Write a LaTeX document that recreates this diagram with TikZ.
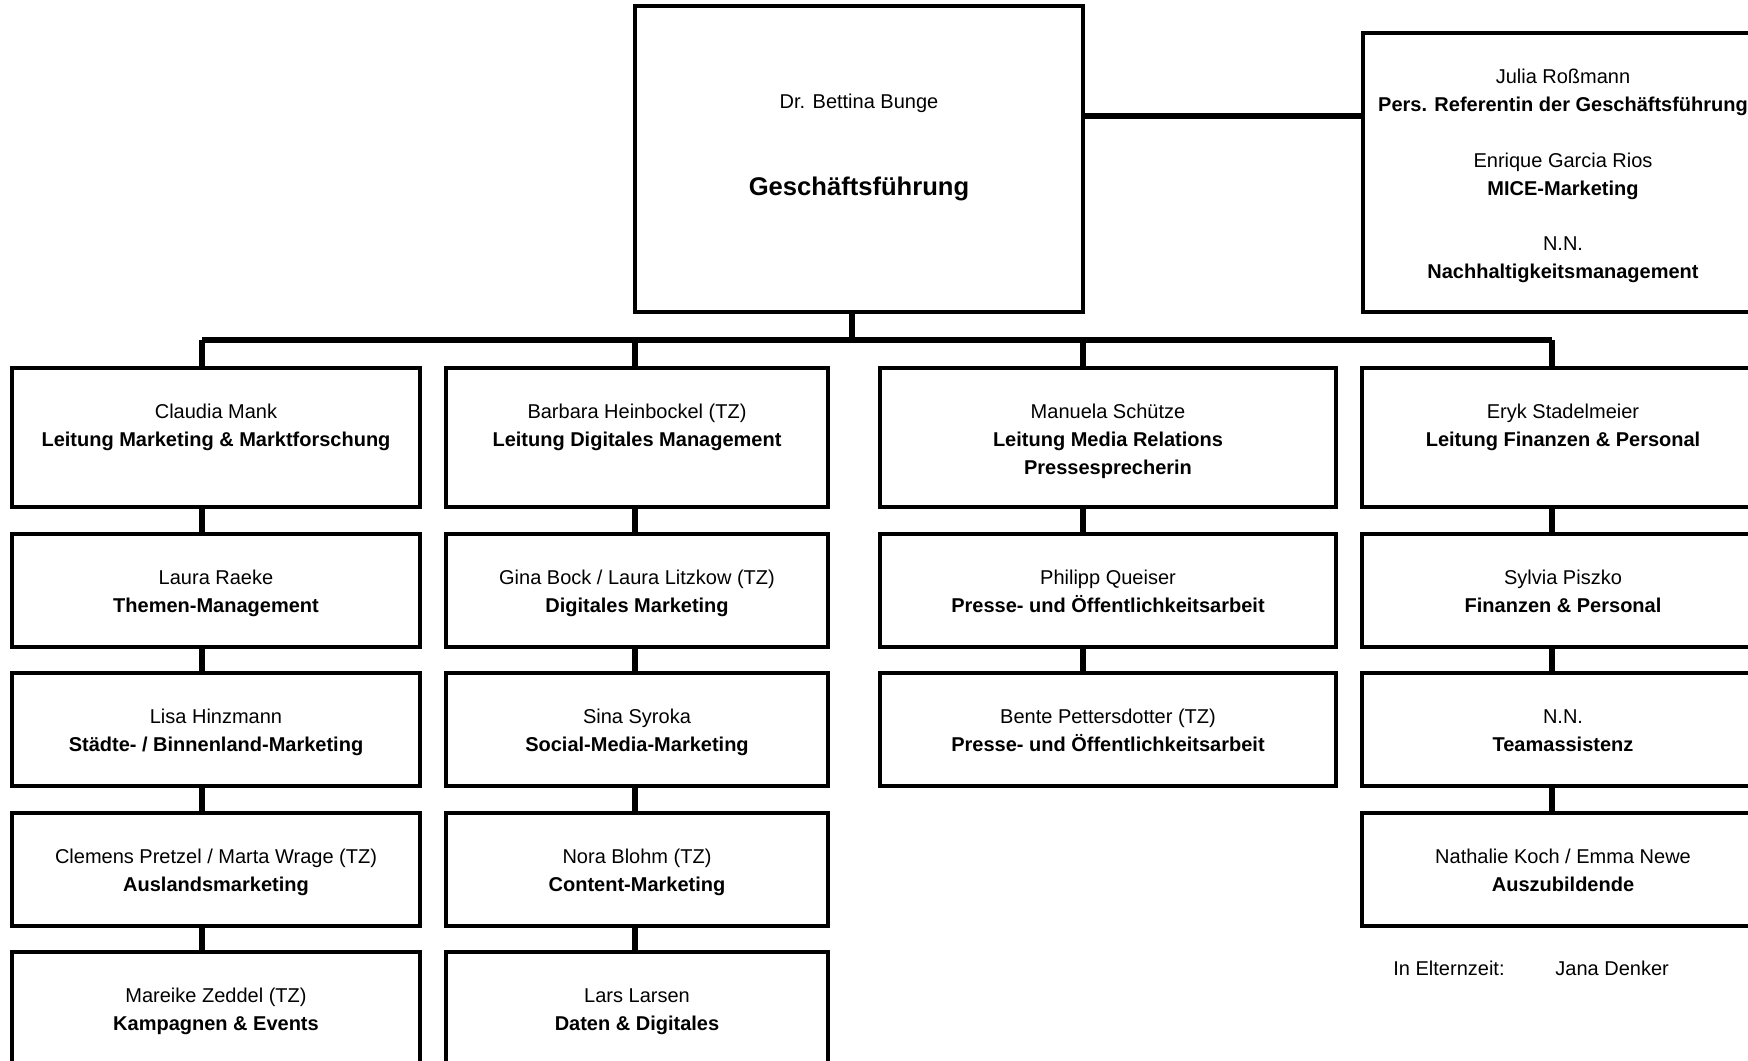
\documentclass[tikz,border=0pt]{standalone}
\usepackage{fontspec}
\setmainfont{Liberation Sans}

\tikzset{
  unit/.style={draw, line width=2.4pt, inner sep=0pt, outer sep=0pt, anchor=north, minimum height=56.5pt},
  headunit/.style={unit, minimum height=69.5pt},
  colA/.style={minimum width=204pt},
  colB/.style={minimum width=191pt},
  colC/.style={minimum width=228pt},
  colD/.style={minimum width=201pt},
  txt/.style={anchor=north, yshift=-18pt, align=center, inner sep=0pt, font=\fontsize{10}{14}\selectfont},
  note/.style={anchor=west, inner sep=0pt, font=\fontsize{10}{14}\selectfont},
  conn/.style={line width=3pt},
}

\begin{document}
\begin{tikzpicture}[x=0.5pt, y=-0.5pt]
  \useasboundingbox (0,0) rectangle (1748,1060);
  \clip (0,0) rectangle (1748,1060);

  % management and staff unit
  \node[unit, minimum width=224pt, minimum height=153pt,
    label={[txt, yshift=-26pt]north:Dr. Bettina Bunge},
    label={[txt, yshift=-67.5pt, font=\fontsize{12.8}{15}\selectfont\bfseries]north:Geschäftsführung}] (gf) at (859,6) {};
  \node[unit, minimum width=200pt, minimum height=139.5pt,
    label={[txt]north:{Julia Roßmann\\\textbf{Pers. Referentin der Geschäftsführung}\\[13.75pt]
      Enrique Garcia Rios\\\textbf{MICE-Marketing}\\[13.75pt]
      N.N.\\\textbf{Nachhaltigkeitsmanagement}}}] (stab) at (1563,33) {};

  % column 1: marketing
  \node[headunit, colA, label={[txt]north:{Claudia Mank\\\textbf{Leitung Marketing \& Marktforschung}}}] (mank) at (216,368) {};
  \node[unit, colA, label={[txt]north:{Laura Raeke\\\textbf{Themen-Management}}}] (raeke) at (216,534) {};
  \node[unit, colA, label={[txt]north:{Lisa Hinzmann\\\textbf{Städte- / Binnenland-Marketing}}}] (hinzmann) at (216,673) {};
  \node[unit, colA, label={[txt]north:{Clemens Pretzel / Marta Wrage (TZ)\\\textbf{Auslandsmarketing}}}] (pretzel) at (216,813) {};
  \node[unit, colA, label={[txt]north:{Mareike Zeddel (TZ)\\\textbf{Kampagnen \& Events}}}] (zeddel) at (216,952) {};

  % column 2: digital
  \node[headunit, colB, label={[txt]north:{Barbara Heinbockel (TZ)\\\textbf{Leitung Digitales Management}}}] (heinbockel) at (637,368) {};
  \node[unit, colB, label={[txt]north:{Gina Bock / Laura Litzkow (TZ)\\\textbf{Digitales Marketing}}}] (bock) at (637,534) {};
  \node[unit, colB, label={[txt]north:{Sina Syroka\\\textbf{Social-Media-Marketing}}}] (syroka) at (637,673) {};
  \node[unit, colB, label={[txt]north:{Nora Blohm (TZ)\\\textbf{Content-Marketing}}}] (blohm) at (637,813) {};
  \node[unit, colB, label={[txt]north:{Lars Larsen\\\textbf{Daten \& Digitales}}}] (larsen) at (637,952) {};

  % column 3: media relations
  \node[headunit, colC, label={[txt]north:{Manuela Schütze\\\textbf{Leitung Media Relations}\\\textbf{Pressesprecherin}}}] (schuetze) at (1108,368) {};
  \node[unit, colC, label={[txt]north:{Philipp Queiser\\\textbf{Presse- und Öffentlichkeitsarbeit}}}] (queiser) at (1108,534) {};
  \node[unit, colC, label={[txt]north:{Bente Pettersdotter (TZ)\\\textbf{Presse- und Öffentlichkeitsarbeit}}}] (pettersdotter) at (1108,673) {};

  % column 4: finance
  \node[headunit, colD, label={[txt]north:{Eryk Stadelmeier\\\textbf{Leitung Finanzen \& Personal}}}] (stadelmeier) at (1563,368) {};
  \node[unit, colD, label={[txt]north:{Sylvia Piszko\\\textbf{Finanzen \& Personal}}}] (piszko) at (1563,534) {};
  \node[unit, colD, label={[txt]north:{N.N.\\\textbf{Teamassistenz}}}] (assistenz) at (1563,673) {};
  \node[unit, colD, label={[txt]north:{Nathalie Koch / Emma Newe\\\textbf{Auszubildende}}}] (koch) at (1563,813) {};

  \node[note] (eltern) at (1393,968) {In Elternzeit:};
  \node[note] (denker) at (1555,968) {Jana Denker};

  % bus and drops
  \coordinate (b0) at (852,340);
  \coordinate (b1) at (202,340);
  \coordinate (b2) at (635,340);
  \coordinate (b3) at (1083,340);
  \coordinate (b4) at (1552,340);
  \coordinate (s0) at (1083,116);
  \draw[conn] (b0 |- gf.south) -- (b0);
  \draw[conn] (b1) -- (b4);
  \draw[conn] (s0) -- (s0 -| stab.west);
  \draw[conn] (b1) -- (b1 |- mank.north);
  \draw[conn] (b2) -- (b2 |- heinbockel.north);
  \draw[conn] (b3) -- (b3 |- schuetze.north);
  \draw[conn] (b4) -- (b4 |- stadelmeier.north);

  % chains inside the columns
  \foreach \a/\b in {mank/raeke, raeke/hinzmann, hinzmann/pretzel, pretzel/zeddel}
    \draw[conn] (\a.south -| b1) -- (\b.north -| b1);
  \foreach \a/\b in {heinbockel/bock, bock/syroka, syroka/blohm, blohm/larsen}
    \draw[conn] (\a.south -| b2) -- (\b.north -| b2);
  \foreach \a/\b in {schuetze/queiser, queiser/pettersdotter}
    \draw[conn] (\a.south -| b3) -- (\b.north -| b3);
  \foreach \a/\b in {stadelmeier/piszko, piszko/assistenz, assistenz/koch}
    \draw[conn] (\a.south -| b4) -- (\b.north -| b4);
\end{tikzpicture}
\end{document}
